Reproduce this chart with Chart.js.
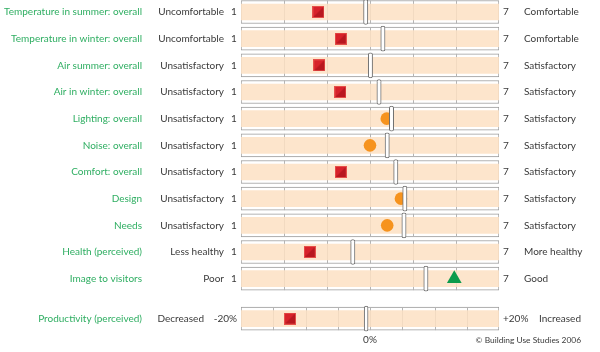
<!DOCTYPE html>
<html>
<head>
<meta charset="utf-8">
<script src="https://cdn.jsdelivr.net/npm/chart.js@4.4.1/dist/chart.umd.min.js"></script>
<style>
	html, body { margin: 0; padding: 0; background: #ffffff; }
	#wrap { position: relative; width: 600px; height: 352px; }
</style>
</head>
<body>
<div id="wrap"><canvas id="chart" width="600" height="352"></canvas></div>
<script>
const categories = [
	"Temperature in summer: overall",
	"Temperature in winter: overall",
	"Air summer: overall",
	"Air in winter: overall",
	"Lighting: overall",
	"Noise: overall",
	"Comfort: overall",
	"Design",
	"Needs",
	"Health (perceived)",
	"Image to visitors"
];
const lowLabels = [
	"Uncomfortable", "Uncomfortable", "Unsatisfactory", "Unsatisfactory", "Unsatisfactory",
	"Unsatisfactory", "Unsatisfactory", "Unsatisfactory", "Unsatisfactory", "Less healthy", "Poor"
];
const highLabels = [
	"Comfortable", "Comfortable", "Satisfactory", "Satisfactory", "Satisfactory",
	"Satisfactory", "Satisfactory", "Satisfactory", "Satisfactory", "More healthy", "Good"
];
const scores = [2.80, 3.32, 2.82, 3.31, 4.39, 4.00, 3.32, 4.72, 4.40, 2.60, 5.96];
const benchmarks = [3.90, 4.30, 4.01, 4.21, 4.50, 4.40, 4.60, 4.81, 4.79, 3.60, 5.30];
// worse / similar / better than benchmark
const results = ["worse", "worse", "worse", "worse", "similar", "similar", "worse", "similar", "similar", "worse", "better"];
const scaleEnds = ["1", "7"];
const scaleTicks = [2, 3, 4, 5, 6];

const productivityLabel = "Productivity (perceived)";
const productivityLow = "Decreased";
const productivityHigh = "Increased";
const productivityEnds = ["-20%", "+20%"];
const productivityTicks = [-15, -10, -5, 0, 5, 10, 15];
const productivityScore = -12.4;
const productivityBenchmark = -0.6;
const productivityZero = "0%";
const credit = "\u00a9 Building Use Studies 2006";

const GREEN_TEXT = "#2fae62";
const DARK_TEXT = "#3a3a3a";
const FONT = "10px Lato";
const productivityRow = categories.length + 1.5;

function makeSquare (size) {
	const c = document.createElement("canvas");
	c.width = size;
	c.height = size;
	const g = c.getContext("2d");
	g.fillStyle = "#e6504a";
	g.fillRect(0, 0, size, size);
	g.fillStyle = "#d7222a";
	g.fillRect(1, 1, size - 2, size - 2);
	g.fillStyle = "#b8171f";
	g.beginPath();
	g.moveTo(size - 1, 1);
	g.lineTo(size - 1, size - 1);
	g.lineTo(1, size - 1);
	g.closePath();
	g.fill();
	return c;
}

const square = makeSquare(12);

function markerStyle (r) {
	if (r === "worse") return square;
	if (r === "better") return "triangle";
	return "circle";
}
function markerColor (r) {
	if (r === "better") return "#0c9b4c";
	if (r === "worse") return "#d7222a";
	return "#f6931e";
}
function markerRadius (r) {
	if (r === "better") return 8.5;
	return 6.3;
}

const rows = categories.map((c, i) => i + 1);

// tick marks across each frame
const tickPlugin = {
	id: "frameTicks",
	afterDatasetDraw (chart, args) {
		const label = args.meta._dataset.label;
		if (label !== "frame" && label !== "frameProd") return;
		const ctx = chart.ctx;
		const yScale = chart.scales.y;
		ctx.save();
		ctx.strokeStyle = "#b4b4b4";
		ctx.lineWidth = 1;
		ctx.beginPath();
		if (label === "frame") {
			rows.forEach((r) => {
				const py = yScale.getPixelForValue(r);
				scaleTicks.forEach((t) => {
					const px = Math.round(chart.scales.x.getPixelForValue(t)) + 0.5;
					ctx.moveTo(px, py - 11.5);
					ctx.lineTo(px, py + 11.5);
				});
			});
		}
		else {
			const py = yScale.getPixelForValue(productivityRow);
			productivityTicks.forEach((t) => {
				const px = Math.round(chart.scales.x2.getPixelForValue(t)) + 0.5;
				ctx.moveTo(px, py - 11.5);
				ctx.lineTo(px, py + 11.5);
			});
		}
		ctx.stroke();
		ctx.restore();
	}
};

const textPlugin = {
	id: "rowText",
	afterDraw (chart) {
		const ctx = chart.ctx;
		const yScale = chart.scales.y;
		ctx.save();
		ctx.font = FONT;
		ctx.textBaseline = "middle";
		categories.forEach((name, i) => {
			const py = yScale.getPixelForValue(rows[i]);
			ctx.textAlign = "right";
			ctx.fillStyle = GREEN_TEXT;
			ctx.fillText(name, 142, py);
			ctx.fillStyle = DARK_TEXT;
			ctx.fillText(lowLabels[i], 224, py);
			ctx.textAlign = "center";
			ctx.fillText(scaleEnds[0], 234, py);
			ctx.textAlign = "left";
			ctx.fillText(scaleEnds[1], 503, py);
			ctx.fillText(highLabels[i], 524, py);
		});
		const py = yScale.getPixelForValue(productivityRow);
		ctx.textAlign = "right";
		ctx.fillStyle = GREEN_TEXT;
		ctx.fillText(productivityLabel, 142, py);
		ctx.fillStyle = DARK_TEXT;
		ctx.fillText(productivityLow, 204, py);
		ctx.fillText(productivityEnds[0], 237, py);
		ctx.textAlign = "left";
		ctx.fillText(productivityEnds[1], 503, py);
		ctx.fillText(productivityHigh, 539, py);
		ctx.textAlign = "center";
		ctx.fillText(productivityZero, chart.scales.x2.getPixelForValue(0), 340);
		ctx.textAlign = "right";
		ctx.font = "8.4px Lato";
		ctx.fillText(credit, 581, 340);
		ctx.restore();
	}
};

new Chart(document.getElementById("chart"), {
	type: "bar",
	data: {
		datasets: [
			{
				label: "benchmark",
				order: 1,
				xAxisID: "x",
				data: benchmarks.map((v, i) => ({ y: rows[i], x: [v - 0.05, v + 0.05] })),
				backgroundColor: "#ffffff",
				borderColor: "#6f6f6f",
				borderWidth: 1,
				borderSkipped: false,
				borderRadius: 2,
				barThickness: 25,
				grouped: false
			},
			{
				label: "benchmarkProd",
				order: 1,
				xAxisID: "x2",
				data: [{ y: productivityRow, x: [productivityBenchmark - 0.3, productivityBenchmark + 0.3] }],
				backgroundColor: "#ffffff",
				borderColor: "#6f6f6f",
				borderWidth: 1,
				borderSkipped: false,
				borderRadius: 2,
				barThickness: 25,
				grouped: false
			},
			{
				type: "scatter",
				label: "score",
				order: 2,
				xAxisID: "x",
				data: scores.map((v, i) => ({ x: v, y: rows[i] })),
				pointStyle: results.map(markerStyle),
				backgroundColor: results.map(markerColor),
				pointRadius: results.map(markerRadius),
				borderWidth: 0
			},
			{
				type: "scatter",
				label: "scoreProd",
				order: 2,
				xAxisID: "x2",
				data: [{ x: productivityScore, y: productivityRow }],
				pointStyle: square,
				backgroundColor: "#d7222a",
				borderWidth: 0
			},
			{
				label: "fill",
				order: 4,
				xAxisID: "x",
				data: rows.map((r) => ({ y: r, x: [1, 7] })),
				backgroundColor: "rgba(253, 224, 195, 0.85)",
				borderWidth: 0,
				barThickness: 16,
				grouped: false
			},
			{
				label: "fillProd",
				order: 4,
				xAxisID: "x2",
				data: [{ y: productivityRow, x: [-20, 20] }],
				backgroundColor: "rgba(253, 224, 195, 0.85)",
				borderWidth: 0,
				barThickness: 16,
				grouped: false
			},
			{
				label: "frame",
				order: 5,
				xAxisID: "x",
				data: rows.map((r) => ({ y: r, x: [1, 7] })),
				backgroundColor: "#ffffff",
				borderColor: "#9a9a9a",
				borderWidth: 1,
				borderSkipped: false,
				barThickness: 23,
				grouped: false
			},
			{
				label: "frameProd",
				order: 5,
				xAxisID: "x2",
				data: [{ y: productivityRow, x: [-20, 20] }],
				backgroundColor: "#ffffff",
				borderColor: "#9a9a9a",
				borderWidth: 1,
				borderSkipped: false,
				barThickness: 23,
				grouped: false
			}
		]
	},
	options: {
		indexAxis: "y",
		responsive: false,
		animation: false,
		layout: { autoPadding: false, padding: { left: 241, right: 101, top: 0, bottom: 12 } },
		scales: {
			x: { type: "linear", min: 1, max: 7, display: false },
			x2: { type: "linear", min: -20, max: 20, display: false },
			y: { type: "linear", min: 0.55, max: 13.3, reverse: true, offset: false, display: false }
		},
		plugins: {
			legend: { display: false },
			tooltip: { enabled: false }
		}
	},
	plugins: [tickPlugin, textPlugin]
});
</script>
</body>
</html>
